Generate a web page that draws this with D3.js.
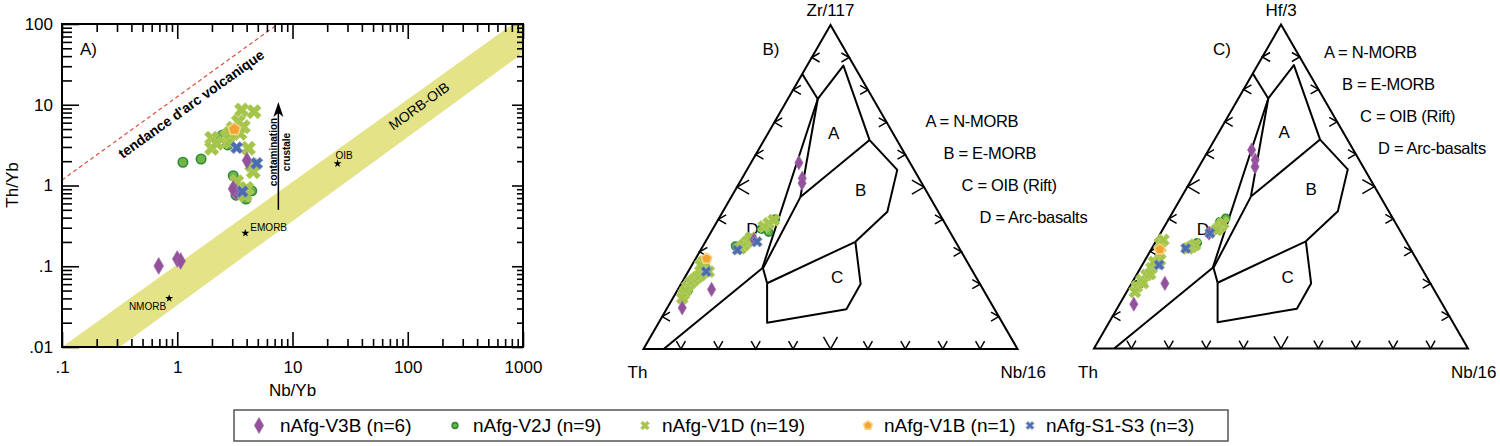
<!DOCTYPE html>
<html>
<head>
<meta charset="utf-8">
<script src="https://cdn.jsdelivr.net/npm/d3@7"></script>
<style>
  body { margin: 0; background: #fff; }
  text { font-family: "Liberation Sans", Arial, sans-serif; }
</style>
</head>
<body>
<script>
// ---------- data ----------
// panel A : [Nb/Yb, Th/Yb]
var v3bA = [[4.03, 2.04], [3.23, 0.83], [3.05, 0.91], [0.69, 0.101], [1.00, 0.123], [1.07, 0.116]];
var v2jA = [[1.12, 1.94], [1.61, 2.13], [2.48, 4.22], [2.74, 3.18], [3.06, 1.32], [4.43, 0.86], [3.23, 0.76], [3.95, 0.68], [2.26, 3.85]];
var v1dA = [[3.62, 8.61], [4.63, 8.2], [3.39, 6.17], [3.74, 5.35], [3.5, 4.43], [1.99, 3.85], [2.69, 4.02], [1.99, 2.89], [2.87, 3.49], [4.14, 2.89],
            [4.57, 1.48], [4.43, 1.79], [3.28, 1.11], [3.5, 0.84], [3.87, 0.76], [2.2, 3.33], [3.06, 5.11], [4.0, 0.92], [2.87, 4.43]];
var v1bA = [[3.13, 4.97]];
var s13A = [[3.28, 2.94], [4.89, 1.88], [3.67, 0.84]];

// reference lines / points of panel A
var morbOibBand = [[0.1, 0.01], [818, 100], [1000, 100], [1000, 43.8], [0.318, 0.01]];
var arcTrend = [[0.1, 1.17], [7.49, 100]];
var crustArrow = [[7.54, 0.5], [7.54, 10.8]];
var refPoints = [{name: "NMORB", v: [0.85, 0.040]}, {name: "EMORB", v: [3.9, 0.257]}, {name: "OIB", v: [24.6, 1.87]}];

var xMajor = [0.1, 1, 10, 100, 1000];
var yMajor = [0.01, 0.1, 1, 10, 100];

// panels B and C : [top apex fraction (Zr/117 or Hf/3), Nb/16 fraction]
var v3bB = [[0.575, 0.128], [0.527, 0.161], [0.512, 0.168], [0.127, 0.040], [0.184, 0.090], [0.337, 0.127]];
var v2jB = [[0.361, 0.154], [0.401, 0.152], [0.318, 0.087], [0.324, 0.103], [0.235, 0.035], [0.182, 0.029], [0.250, 0.041], [0.333, 0.106], [0.370, 0.130]];
var v1dB = [[0.170, 0.023], [0.192, 0.021], [0.204, 0.024], [0.213, 0.028], [0.222, 0.033], [0.228, 0.038], [0.238, 0.044], [0.239, 0.055], [0.270, 0.026], [0.259, 0.023],
            [0.311, 0.104], [0.321, 0.108], [0.331, 0.112], [0.343, 0.115], [0.378, 0.133], [0.388, 0.141], [0.398, 0.149], [0.179, 0.023], [0.157, 0.025]];
var v1bB = [[0.279, 0.029]];
var s13B = [[0.239, 0.048], [0.306, 0.098], [0.331, 0.138]];

var v3bC = [[0.613, 0.115], [0.582, 0.140], [0.561, 0.150], [0.137, 0.038], [0.201, 0.089], [0.356, 0.130]];
var v2jC = [[0.402, 0.151], [0.391, 0.141], [0.309, 0.093], [0.320, 0.102], [0.236, 0.032], [0.199, 0.023], [0.267, 0.035], [0.326, 0.113], [0.366, 0.141]];
var v1dC = [[0.191, 0.019], [0.211, 0.022], [0.227, 0.027], [0.248, 0.030], [0.263, 0.036], [0.294, 0.030], [0.325, 0.014], [0.335, 0.018], [0.175, 0.022], [0.273, 0.040],
            [0.314, 0.104], [0.320, 0.110], [0.309, 0.097], [0.376, 0.149], [0.387, 0.152], [0.366, 0.145], [0.202, 0.030], [0.230, 0.035], [0.267, 0.027]];
var v1bC = [[0.306, 0.023]];
var s13C = [[0.258, 0.045], [0.309, 0.091], [0.356, 0.132]];

// Wood (1980) field boundaries, same for both ternaries
var fieldLines = [
  [[0.849, 0], [0.772, 0.080]],
  [[0.772, 0.080], [0.875, 0.097], [0.645, 0.282], [0.553, 0.402], [0.424, 0.440], [0.331, 0.401]],
  [[0.645, 0.282], [0.469, 0.185]],
  [[0.772, 0.080], [0.469, 0.185]],
  [[0.772, 0.080], [0.249, 0.193], [0, 0.054]],
  [[0.469, 0.185], [0.249, 0.195], [0.203, 0.229]],
  [[0.203, 0.229], [0.331, 0.401]],
  [[0.203, 0.229], [0.081, 0.290], [0.123, 0.481], [0.201, 0.480], [0.331, 0.401]]
];
var fieldLetters = [{t: "A", v: [0.667, 0.175]}, {t: "B", v: [0.491, 0.335]}, {t: "C", v: [0.221, 0.407]}, {t: "D", v: [0.370, 0.106]}];
var fieldNames = ["A = N-MORB", "B = E-MORB", "C = OIB (Rift)", "D = Arc-basalts"];
var ternTicks = [0.1, 0.2, 0.3, 0.4, 0.5, 0.6, 0.7, 0.8, 0.9];

var legendLabels = ["nAfg-V3B (n=6)", "nAfg-V2J (n=9)", "nAfg-V1D (n=19)", "nAfg-V1B (n=1)", "nAfg-S1-S3 (n=3)"];

// ---------- styles ----------
var symbolPentagon = {
  draw: function(ctx, size) {
    var r = Math.sqrt(size / 2.378);
    for (var i = 0; i < 5; i++) {
      var a = -Math.PI / 2 + i * 2 * Math.PI / 5;
      if (i == 0) ctx.moveTo(r * Math.cos(a), r * Math.sin(a));
      else ctx.lineTo(r * Math.cos(a), r * Math.sin(a));
    }
    ctx.closePath();
  }
};

var st = {
  v3b: {type: d3.symbolDiamond, size: 80, fill: "#93509b", stroke: "#a46aac", sw: 0.8, rot: 0},
  v2j: {type: d3.symbolCircle, size: 70, fill: "#70b547", stroke: "#2f8a34", sw: 1.6, rot: 0},
  v1d: {type: d3.symbolCross, size: 130, fill: "#a4c44a", stroke: "#b8d16c", sw: 0.8, rot: 45},
  v1b: {type: symbolPentagon, size: 100, fill: "#f3a234", stroke: "#f8d27f", sw: 1.6, rot: 0},
  s13: {type: d3.symbolCross, size: 95, fill: "#4b6cb1", stroke: "#8d9cbf", sw: 0.8, rot: 45}
};

var W = 1500, H = 446;
var svg = d3.select("body").append("svg").attr("width", W).attr("height", H);

function marks(g, data, s, proj, k) {
  g.selectAll(null).data(data).enter().append("path")
    .attr("transform", function(d) {
      var p = proj(d);
      return "translate(" + p[0] + "," + p[1] + ")" + (s.rot ? " rotate(" + s.rot + ")" : "");
    })
    .attr("d", d3.symbol().type(s.type).size(s.size * k * k))
    .attr("fill", s.fill)
    .attr("stroke", s.stroke)
    .attr("stroke-width", s.sw);
}

// ---------- panel A ----------
var ax = {left: 62, right: 523, top: 24, bottom: 347};
var x = d3.scaleLog().domain([0.1, 1000]).range([ax.left, ax.right]);
var y = d3.scaleLog().domain([0.01, 100]).range([ax.bottom, ax.top]);
var gA = svg.append("g");

var lineA = d3.line().x(function(d) { return x(d[0]); }).y(function(d) { return y(d[1]); });

gA.append("path")
  .attr("d", lineA(morbOibBand) + "Z")
  .attr("fill", "#e4e388");

gA.append("path")
  .attr("d", lineA(arcTrend))
  .attr("stroke", "#d9503f")
  .attr("stroke-width", 1.2)
  .attr("stroke-dasharray", "4,3")
  .attr("fill", "none");

var fmt = function(d) { return d < 1 ? String(d).slice(1) : String(d); };
var isMinor = function(d) { return xMajor.indexOf(d) < 0 && yMajor.indexOf(d) < 0; };
var xMinor = x.ticks().filter(isMinor);
var yMinor = y.ticks().filter(isMinor);

function styleAxis(g) {
  g.select(".domain").remove();
  g.attr("font-size", 17).attr("font-family", "'Liberation Sans', Arial, sans-serif");
  g.selectAll(".tick line").attr("stroke", "#000").attr("stroke-width", 1.6);
  g.selectAll(".tick text").attr("fill", "#000");
}

gA.append("g").attr("transform", "translate(0," + ax.bottom + ")")
  .call(d3.axisBottom(x).tickValues(xMajor).tickSize(-15).tickPadding(14).tickFormat(fmt)).call(styleAxis);
gA.append("g").attr("transform", "translate(0," + ax.bottom + ")")
  .call(d3.axisBottom(x).tickValues(xMinor).tickSize(-8).tickFormat("")).call(styleAxis);
gA.append("g").attr("transform", "translate(0," + ax.top + ")")
  .call(d3.axisTop(x).tickValues(xMajor).tickSize(-15).tickFormat("")).call(styleAxis);
gA.append("g").attr("transform", "translate(0," + ax.top + ")")
  .call(d3.axisTop(x).tickValues(xMinor).tickSize(-8).tickFormat("")).call(styleAxis);
gA.append("g").attr("transform", "translate(" + ax.left + ",0)")
  .call(d3.axisLeft(y).tickValues(yMajor).tickSize(-17).tickPadding(9).tickFormat(fmt)).call(styleAxis);
gA.append("g").attr("transform", "translate(" + ax.left + ",0)")
  .call(d3.axisLeft(y).tickValues(yMinor).tickSize(-10).tickFormat("")).call(styleAxis);
gA.append("g").attr("transform", "translate(" + ax.right + ",0)")
  .call(d3.axisRight(y).tickValues(yMajor).tickSize(-11).tickFormat("")).call(styleAxis);
gA.append("g").attr("transform", "translate(" + ax.right + ",0)")
  .call(d3.axisRight(y).tickValues(yMinor).tickSize(-6).tickFormat("")).call(styleAxis);

gA.append("rect")
  .attr("x", ax.left).attr("y", ax.top)
  .attr("width", ax.right - ax.left).attr("height", ax.bottom - ax.top)
  .attr("fill", "none").attr("stroke", "#000").attr("stroke-width", 2);

// texts of panel A
gA.append("text").attr("x", 80).attr("y", 55).attr("font-size", 17).text("A)");
gA.append("text").attr("transform", "translate(18,185) rotate(-90)")
  .attr("text-anchor", "middle").attr("font-size", 17).text("Th/Yb");
gA.append("text").attr("x", (ax.left + ax.right) / 2).attr("y", 396)
  .attr("text-anchor", "middle").attr("font-size", 17).text("Nb/Yb");

gA.append("text").attr("transform", "translate(194,108) rotate(-35.6)")
  .attr("text-anchor", "middle").attr("font-size", 14).attr("font-weight", "bold")
  .text("tendance d'arc volcanique");
gA.append("text").attr("transform", "translate(422,110) rotate(-36)")
  .attr("text-anchor", "middle").attr("font-size", 14).text("MORB-OIB");

// reference compositions
gA.selectAll(".ref").data(refPoints).enter().append("path")
  .attr("transform", function(d) { return "translate(" + x(d.v[0]) + "," + y(d.v[1]) + ")"; })
  .attr("d", d3.symbol().type(d3.symbolStar).size(20))
  .attr("fill", "#000");
var refOff = {NMORB: [-3, 12, "end"], EMORB: [5, -2, "start"], OIB: [-2, -5, "start"]};
gA.selectAll(".reflab").data(refPoints).enter().append("text")
  .attr("x", function(d) { return x(d.v[0]) + refOff[d.name][0]; })
  .attr("y", function(d) { return y(d.v[1]) + refOff[d.name][1]; })
  .attr("text-anchor", function(d) { return refOff[d.name][2]; })
  .attr("font-size", 10)
  .text(function(d) { return d.name; });

// crustal contamination arrow
var ax0 = x(crustArrow[0][0]), ay0 = y(crustArrow[0][1]), ay1 = y(crustArrow[1][1]);
gA.append("line").attr("x1", ax0).attr("x2", ax0).attr("y1", ay0).attr("y2", ay1 + 8)
  .attr("stroke", "#000").attr("stroke-width", 1.5);
gA.append("path")
  .attr("d", "M" + ax0 + "," + ay1 + " L" + (ax0 + 5) + "," + (ay1 + 15) + " L" + ax0 + "," + (ay1 + 11) +
             " L" + (ax0 - 5) + "," + (ay1 + 15) + "Z")
  .attr("fill", "#000");
gA.append("text").attr("transform", "translate(277," + 152 + ") rotate(-90)")
  .attr("text-anchor", "middle").attr("font-size", 10).attr("font-weight", "bold").text("contamination");
gA.append("text").attr("transform", "translate(290," + 152 + ") rotate(-90)")
  .attr("text-anchor", "middle").attr("font-size", 10).attr("font-weight", "bold").text("crustale");

var projA = function(d) { return [x(d[0]), y(d[1])]; };
marks(gA, v2jA, st.v2j, projA, 1);
marks(gA, v1dA, st.v1d, projA, 1);
marks(gA, v3bA, st.v3b, projA, 1);
marks(gA, v1bA, st.v1b, projA, 1);
marks(gA, s13A, st.s13, projA, 1);

// ---------- ternaries ----------
function ternary(cfg) {
  var g = svg.append("g");
  var h = cfg.side * Math.sqrt(3) / 2;
  var sx = d3.scaleLinear().domain([0, 1]).range([cfg.x0, cfg.x0 + cfg.side]);
  var sy = d3.scaleLinear().domain([0, 1]).range([cfg.y0, cfg.y0 - h]);
  var proj = function(d) { return [sx(d[1] + d[0] / 2), sy(d[0])]; };
  var line = d3.line().x(function(d) { return proj(d)[0]; }).y(function(d) { return proj(d)[1]; });

  g.append("path").attr("d", line([[0, 0], [0, 1], [1, 0]]) + "Z")
    .attr("fill", "none").attr("stroke", "#000").attr("stroke-width", 2).attr("stroke-linejoin", "miter");

  // chevron ticks on the three sides
  var sides = [
    {pt: function(k) { return [0, k]; }, arms: [[-0.5, -0.866], [0.5, -0.866]]},
    {pt: function(k) { return [k, 0]; }, arms: [[0.866, -0.5], [0.866, 0.5]]},
    {pt: function(k) { return [k, 1 - k]; }, arms: [[-0.866, -0.5], [-0.866, 0.5]]}
  ];
  sides.forEach(function(s) {
    g.selectAll(null).data(ternTicks).enter().append("path")
      .attr("d", function(k) {
        var p = proj(s.pt(k)), L = Math.abs(k - 0.5) < 1e-9 ? 14 : 9;
        return "M" + (p[0] + s.arms[0][0] * L) + "," + (p[1] + s.arms[0][1] * L) +
               "L" + p[0] + "," + p[1] +
               "L" + (p[0] + s.arms[1][0] * L) + "," + (p[1] + s.arms[1][1] * L);
      })
      .attr("fill", "none").attr("stroke", "#000").attr("stroke-width", 1.5);
  });

  g.selectAll(null).data(fieldLines).enter().append("path")
    .attr("d", line)
    .attr("fill", "none").attr("stroke", "#000").attr("stroke-width", 2).attr("stroke-linejoin", "round");

  g.selectAll(null).data(fieldLetters).enter().append("text")
    .attr("x", function(d) { return proj(d.v)[0]; })
    .attr("y", function(d) { return proj(d.v)[1] + 6; })
    .attr("text-anchor", "middle").attr("font-size", 17)
    .text(function(d) { return d.t; });

  var apex = proj([1, 0]);
  g.append("text").attr("x", apex[0]).attr("y", apex[1] - 9).attr("text-anchor", "middle")
    .attr("font-size", 17).text(cfg.topLabel);
  g.append("text").attr("x", apex[0] - 68).attr("y", apex[1] + 30).attr("font-size", 17).text(cfg.panel);
  g.append("text").attr("x", cfg.x0 - 16).attr("y", cfg.y0 + 29).attr("font-size", 17).text("Th");
  g.append("text").attr("x", cfg.x0 + cfg.side - 17).attr("y", cfg.y0 + 29).attr("font-size", 17).text("Nb/16");

  g.selectAll(null).data(fieldNames).enter().append("text")
    .attr("x", function(d, i) { return apex[0] + cfg.names[0] + i * 18; })
    .attr("y", function(d, i) { return apex[1] + cfg.names[1] + i * 32; })
    .attr("font-size", 16.5).attr("letter-spacing", -0.3)
    .text(function(d) { return d; });

  marks(g, cfg.data.v2j, st.v2j, proj, 0.85);
  marks(g, cfg.data.v1d, st.v1d, proj, 0.85);
  marks(g, cfg.data.v3b, st.v3b, proj, 0.85);
  marks(g, cfg.data.v1b, st.v1b, proj, 0.85);
  marks(g, cfg.data.s13, st.s13, proj, 0.85);
}

ternary({x0: 643.5, y0: 349, side: 374, topLabel: "Zr/117", panel: "B)", names: [95, 102],
         data: {v3b: v3bB, v2j: v2jB, v1d: v1dB, v1b: v1bB, s13: s13B}});
ternary({x0: 1094, y0: 348.5, side: 374, topLabel: "Hf/3", panel: "C)", names: [43, 33],
         data: {v3b: v3bC, v2j: v2jC, v1d: v1dC, v1b: v1bC, s13: s13C}});

// ---------- legend ----------
var gL = svg.append("g");
gL.append("rect").attr("x", 234).attr("y", 410).attr("width", 994).attr("height", 31)
  .attr("fill", "#fff").attr("stroke", "#555").attr("stroke-width", 1.5);
var legKeys = ["v3b", "v2j", "v1d", "v1b", "s13"];
var legSym = [259, 455, 645, 868, 1030];
var legText = [280, 473, 662, 884, 1046];
var legScale = [0.95, 0.6, 0.6, 0.7, 0.65];
legKeys.forEach(function(k, i) {
  marks(gL, [[legSym[i], 425.5]], st[k], function(d) { return d; }, legScale[i]);
  gL.append("text").attr("x", legText[i]).attr("y", 432).attr("font-size", 19).text(legendLabels[i]);
});
</script>
</body>
</html>
